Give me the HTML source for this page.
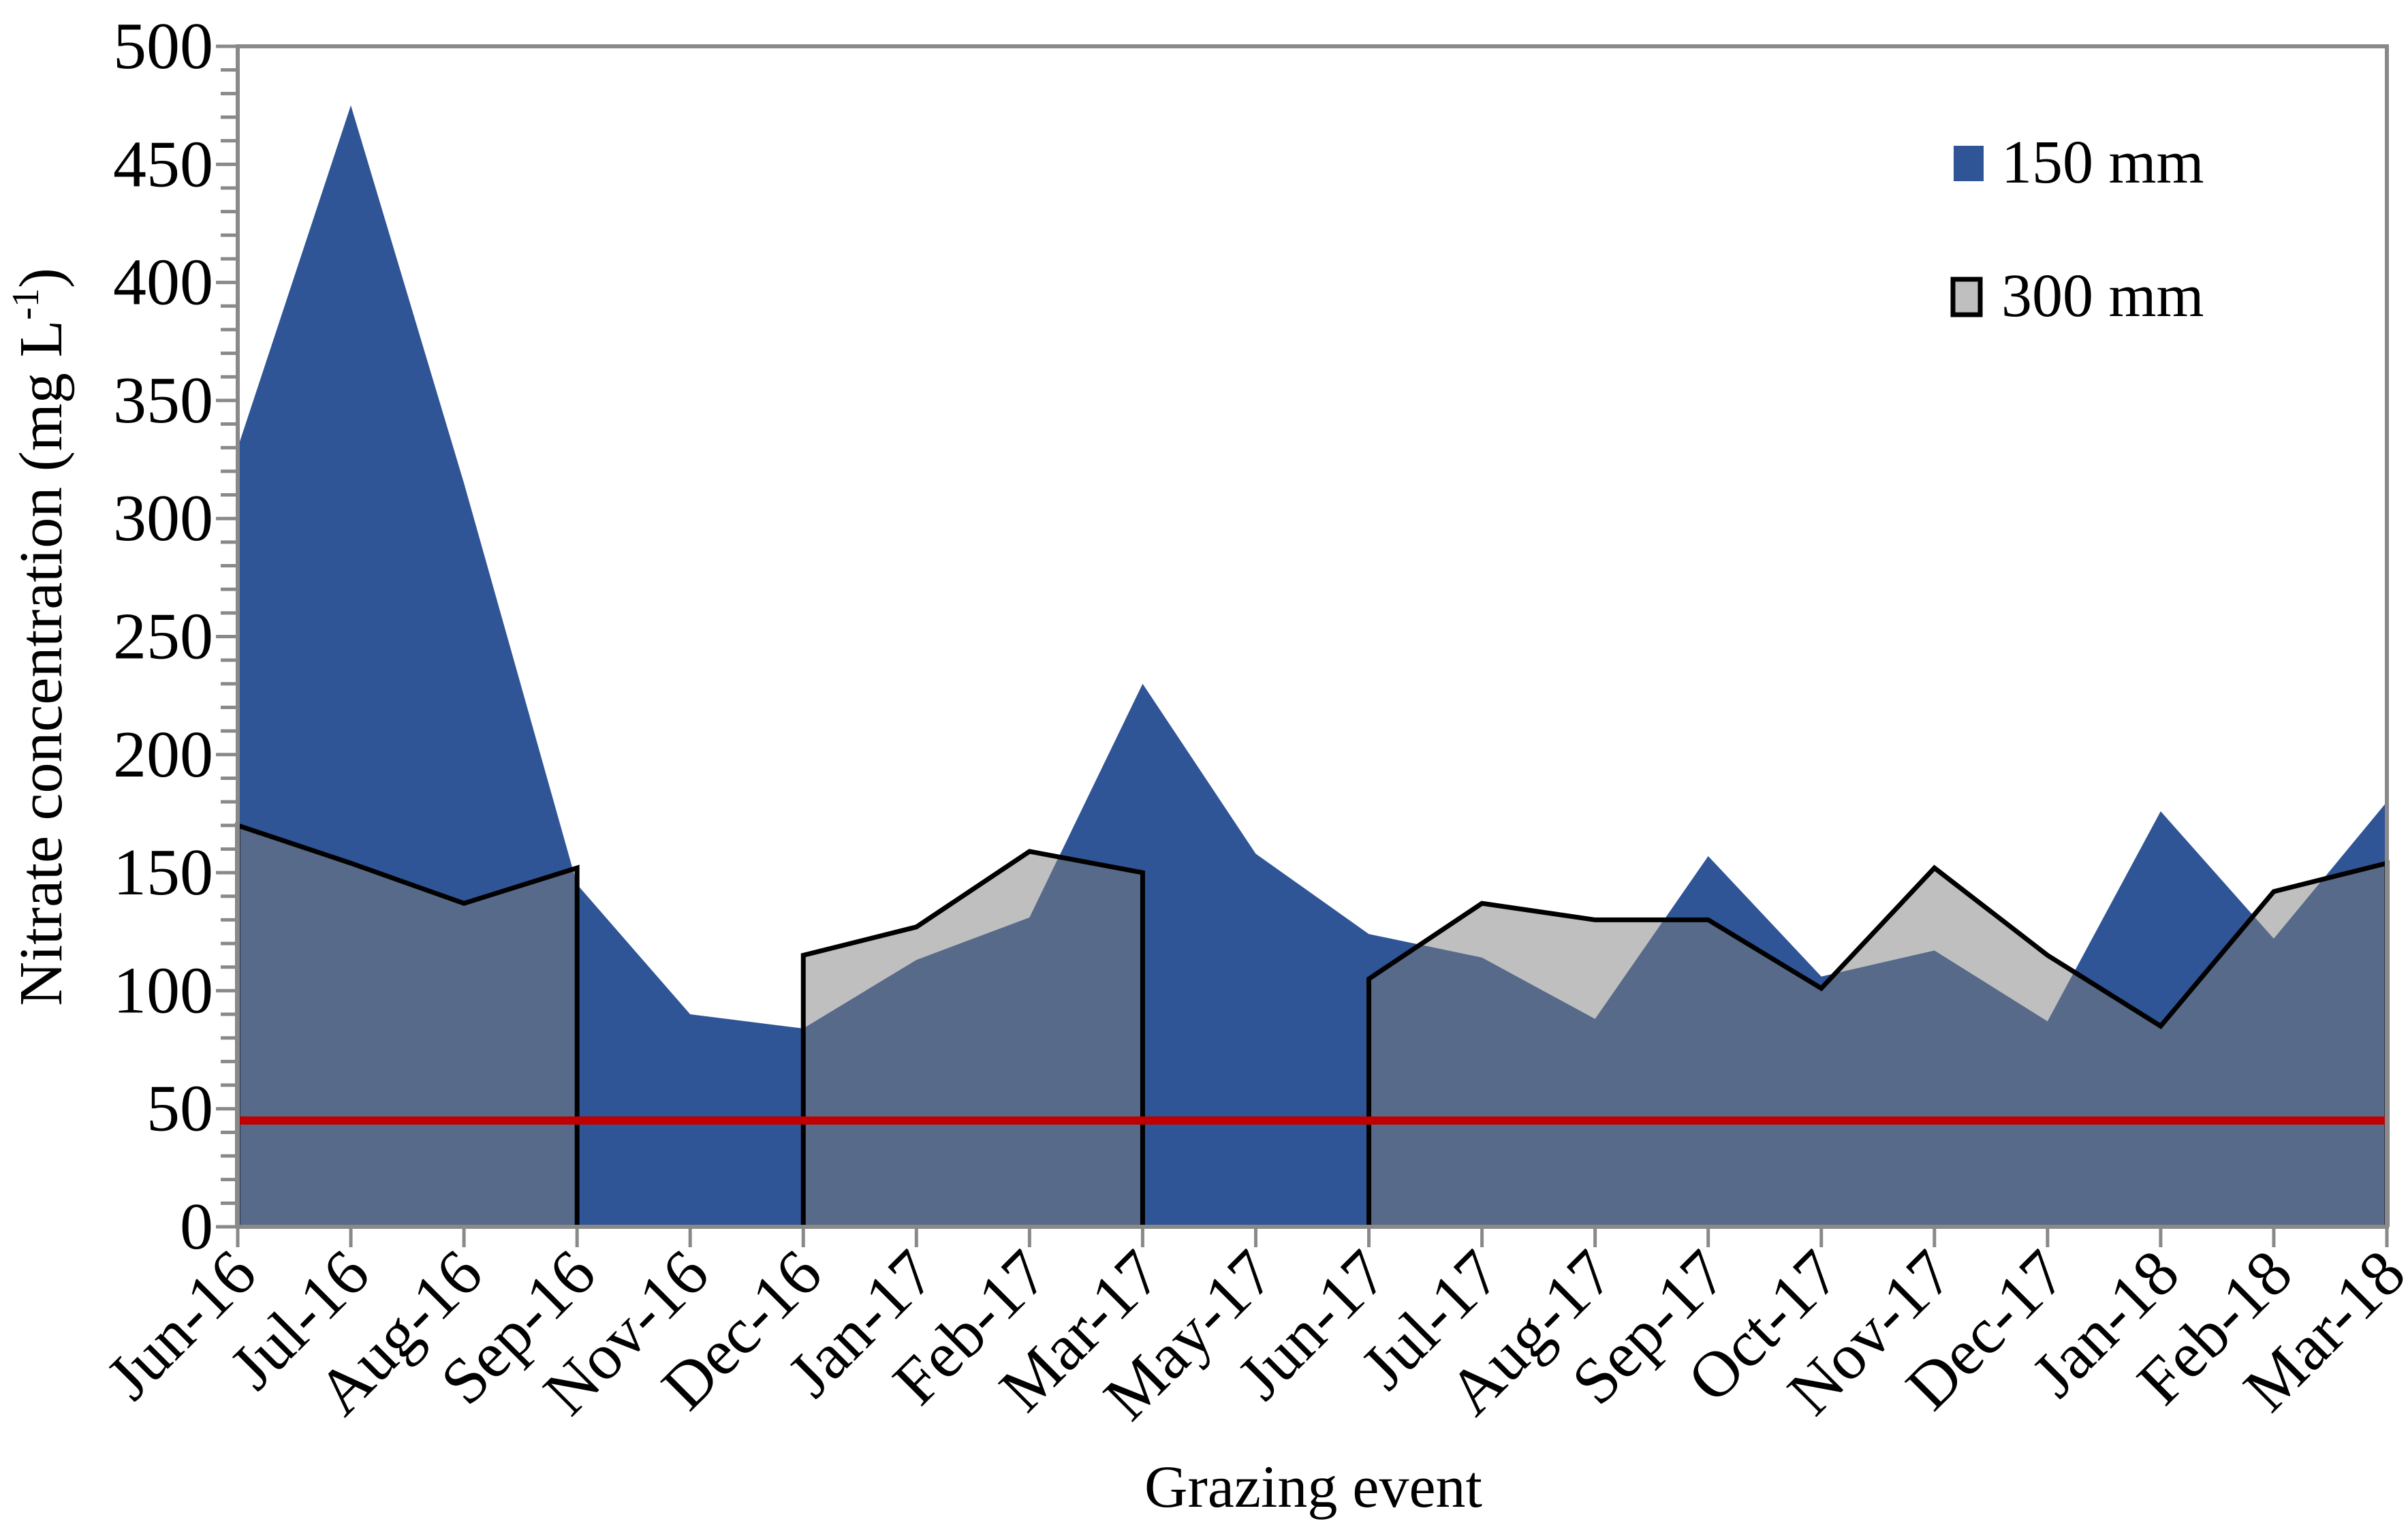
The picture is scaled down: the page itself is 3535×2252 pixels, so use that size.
<!DOCTYPE html>
<html><head><meta charset="utf-8"><style>
html,body{margin:0;padding:0;background:#fff;}
svg{display:block;font-family:"Liberation Serif",serif;}
</style></head><body>
<svg id="chart" width="3535" height="2252" viewBox="0 0 3535 2252">
<defs><clipPath id="greyClip"></clipPath></defs>
<g id="plot"></g>
<text x="1928" y="2212" font-size="88" text-anchor="middle">Grazing event</text>
<text transform="translate(90,935) rotate(-90)" font-size="90" text-anchor="middle">Nitrate concentration (mg L<tspan font-size="56" dy="-34">-1</tspan><tspan dy="34">)</tspan></text>
<g>
<rect x="2868" y="214" width="44" height="52" fill="#2f5597"/>
<text x="2938" y="268" font-size="90">150 mm</text>
<rect x="2867" y="410" width="40" height="52" fill="#bfbfbf" stroke="#000" stroke-width="7"/>
<text x="2938" y="464" font-size="90">300 mm</text>
</g>
</svg>
<script>
const categories=["Jun-16","Jul-16","Aug-16","Sep-16","Nov-16","Dec-16","Jan-17","Feb-17","Mar-17","May-17","Jun-17","Jul-17","Aug-17","Sep-17","Oct-17","Nov-17","Dec-17","Jan-18","Feb-18","Mar-18"];
const series150=[330,475,315,145,90,84,113,131,230,158,124,114,88,157,106,117,87,176,122,180];
const series300=[170,154,137,152,null,115,127,159,150,null,105,137,130,130,101,152,115,85,142,154];
const yTicks=[0,50,100,150,200,250,300,350,400,450,500];
const limitValue=45;

const L=349,R=3504,T=68,B=1801,YMAX=500;
const NS="http://www.w3.org/2000/svg";
function xs(i){return L+(R-L)*i/(categories.length-1);}
function ys(v){return B-(B-T)*v/YMAX;}
function mk(tag,attrs,parent){const e=document.createElementNS(NS,tag);for(const k in attrs)e.setAttribute(k,attrs[k]);(parent||plot).appendChild(e);return e;}
const plot=document.getElementById('plot');

const segs=[];let cur=[];
series300.forEach((v,i)=>{if(v===null){if(cur.length)segs.push(cur);cur=[];}else cur.push(i);});
if(cur.length)segs.push(cur);
function segPoly(seg){let p=[xs(seg[0])+','+B];seg.forEach(i=>p.push(xs(i)+','+ys(series300[i])));p.push(xs(seg[seg.length-1])+','+B);return p.join(' ');}

const clip=document.getElementById('greyClip');
segs.forEach(seg=>{mk('polygon',{points:segPoly(seg)},clip);});

segs.forEach(seg=>{
const g=mk('polygon',{points:segPoly(seg),fill:'#bfbfbf'});


});
let bp=[xs(0)+','+B];series150.forEach((v,i)=>bp.push(xs(i)+','+ys(v)));bp.push(xs(series150.length-1)+','+B);
const blue=mk('polygon',{points:bp.join(' '),fill:'#2f5597'});


const ov=mk('polygon',{points:bp.join(' '),fill:'#586a8a','clip-path':'url(#greyClip)'});


segs.forEach(seg=>{
let p=[xs(seg[0])+','+B];seg.forEach(i=>p.push(xs(i)+','+ys(series300[i])));p.push(xs(seg[seg.length-1])+','+B);
const l=mk('polyline',{points:p.join(' '),fill:'none',stroke:'#000','stroke-width':7});


});
const red=mk('line',{x1:L,x2:R,y1:ys(limitValue),y2:ys(limitValue),stroke:'#c00000','stroke-width':12});


const fr=mk('rect',{x:L,y:T,width:R-L,height:B-T,fill:'none',stroke:'#898989','stroke-width':6});


for(let v=0;v<=YMAX;v+=10){
const major=v%50===0;
const t=mk('line',{x1:L-(major?32:25),x2:L,y1:ys(v),y2:ys(v),stroke:'#898989','stroke-width':5});


}
yTicks.forEach(v=>{
const t=mk('text',{x:L-36,y:ys(v)+32,'font-size':98,'text-anchor':'end'});
t.textContent=v;


});
categories.forEach((c,i)=>{
const t=mk('line',{x1:xs(i),x2:xs(i),y1:B,y2:B+30,stroke:'#898989','stroke-width':5});


const lb=mk('text',{x:0,y:0,'font-size':96,'text-anchor':'end',transform:'translate('+(xs(i)+32)+','+(B+74)+') rotate(-45)'});
lb.textContent=c;


});
</script>
</body></html>
